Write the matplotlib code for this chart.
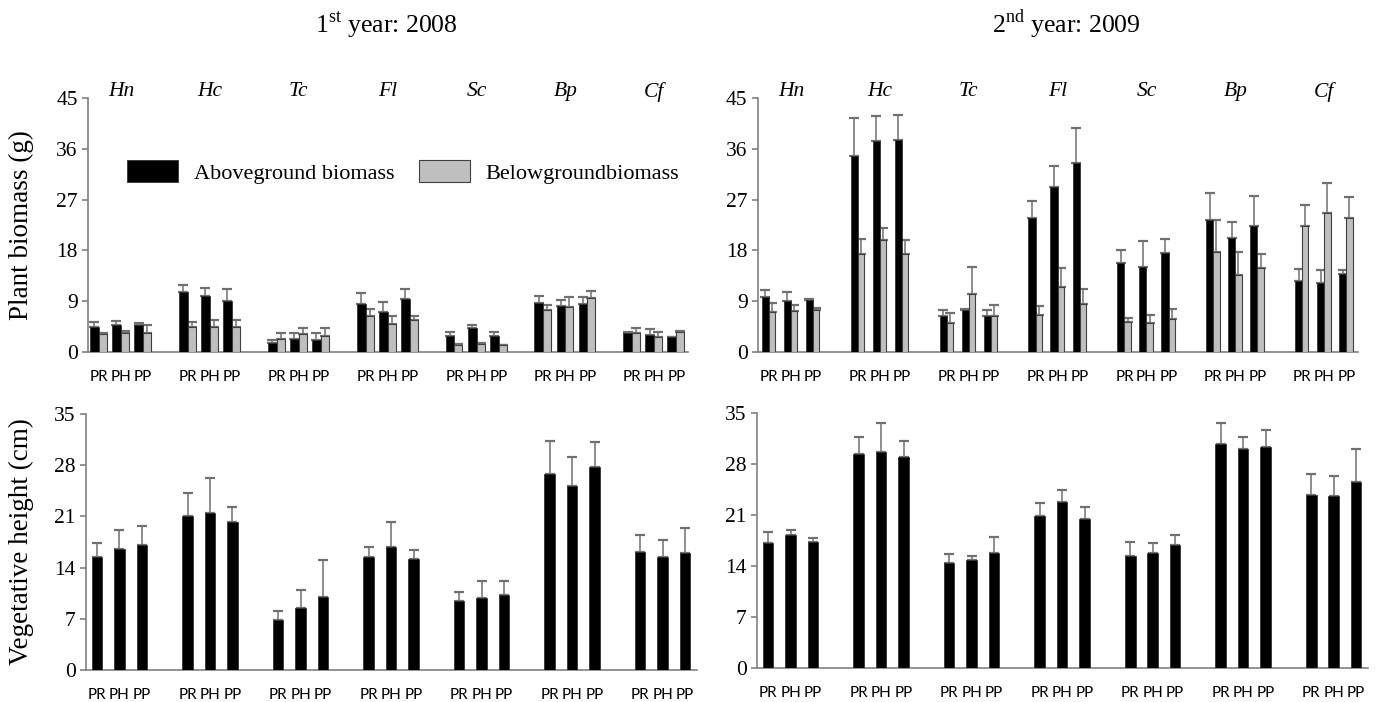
import numpy as np
import matplotlib
matplotlib.use('Agg')
import matplotlib.pyplot as plt

plt.rcParams['font.family'] = 'Liberation Serif'
plt.rcParams['mathtext.fontset'] = 'custom'
plt.rcParams['mathtext.rm'] = 'Liberation Serif'

species = ['Hn', 'Hc', 'Tc', 'Fl', 'Sc', 'Bp', 'Cf']
treat = ['PR', 'PH', 'PP']

# biomass 2008 (g), 3 treatments per species
above08 = [4.4, 4.8, 4.8, 10.6, 10.0, 9.0, 1.6, 2.3, 2.2, 8.5, 7.1, 9.3,
           2.8, 4.2, 2.9, 8.7, 8.1, 8.5, 3.4, 3.0, 2.6]
above08_se = [0.9, 0.7, 0.3, 1.2, 1.3, 2.2, 0.6, 1.1, 1.2, 2.0, 1.8, 1.8,
              0.7, 0.6, 0.6, 1.3, 1.1, 1.2, 0.1, 1.0, 0.1]
below08 = [3.2, 3.3, 3.4, 4.4, 4.4, 4.4, 2.3, 3.1, 2.9, 6.3, 5.0, 5.6,
           1.3, 1.5, 1.2, 7.5, 7.9, 9.5, 3.4, 2.6, 3.5]
below08_se = [0.2, 0.4, 1.3, 0.9, 1.2, 1.3, 1.1, 1.1, 1.3, 1.3, 1.4, 0.8,
              0.1, 0.1, 0.1, 0.9, 1.9, 1.3, 0.8, 1.0, 0.3]

# biomass 2009 (g)
above09 = [9.7, 9.1, 9.2, 34.8, 37.3, 37.5, 6.3, 7.4, 6.3, 23.7, 29.2, 33.4,
           15.7, 15.0, 17.5, 23.3, 20.2, 22.4, 12.6, 12.2, 13.8]
above09_se = [1.2, 1.5, 0.1, 6.6, 4.5, 4.4, 1.2, 0.2, 1.2, 3.1, 3.7, 6.2,
              2.3, 4.6, 2.5, 4.9, 2.8, 5.3, 2.1, 2.3, 0.7]
below09 = [7.1, 7.3, 7.4, 17.3, 19.8, 17.3, 5.1, 10.2, 6.3, 6.5, 11.5, 8.5,
           5.3, 5.1, 5.9, 17.7, 13.6, 14.8, 22.4, 24.7, 23.7]
below09_se = [1.6, 1.0, 0.4, 2.7, 2.2, 2.6, 1.8, 4.9, 2.0, 1.7, 3.4, 2.7,
              0.8, 1.5, 1.8, 5.6, 4.1, 2.5, 3.6, 5.2, 3.8]

# vegetative height (cm)
height08 = [15.5, 16.6, 17.1, 21.1, 21.5, 20.2, 6.8, 8.5, 10.0, 15.4, 16.8, 15.2,
            9.4, 9.9, 10.3, 26.8, 25.1, 27.7, 16.1, 15.5, 16.0]
height08_se = [1.8, 2.5, 2.6, 3.1, 4.7, 2.1, 1.3, 2.5, 5.1, 1.4, 3.4, 1.2,
               1.3, 2.2, 1.9, 4.5, 4.0, 3.4, 2.3, 2.3, 3.4]
height09 = [17.1, 18.3, 17.3, 29.4, 29.7, 28.9, 14.4, 14.8, 15.8, 20.9, 22.8, 20.4,
            15.4, 15.8, 16.9, 30.7, 30.0, 30.4, 23.8, 23.6, 25.5]
height09_se = [1.6, 0.6, 0.5, 2.3, 3.9, 2.2, 1.2, 0.6, 2.2, 1.7, 1.6, 1.7,
               1.9, 1.4, 1.4, 2.9, 1.7, 2.3, 2.9, 2.7, 4.5]

fig = plt.figure(figsize=(13.8, 7.02), dpi=100)

ax1 = fig.add_axes([0.0638, 0.4986, 0.4348, 0.3618])
ax2 = fig.add_axes([0.5493, 0.4986, 0.4348, 0.3618])
ax3 = fig.add_axes([0.0623, 0.0456, 0.4428, 0.3647])
ax4 = fig.add_axes([0.5486, 0.0484, 0.4428, 0.3632])

g = np.arange(len(species))
offs = np.array([-0.248, 0.0, 0.248])
xpos = (g[:, None] + offs[None, :]).ravel()


def setup(ax, ymax, step):
    ax.set_xlim(-0.37, 6.38)
    ax.set_ylim(0, ymax)
    ax.set_yticks(np.arange(0, ymax + 1, step))
    for s in ['top', 'right']:
        ax.spines[s].set_visible(False)
    for s in ['left', 'bottom']:
        ax.spines[s].set_color('#808080')
        ax.spines[s].set_linewidth(1.2)
    ax.tick_params(axis='y', direction='out', length=4.5, width=1.2,
                   color='#808080', labelsize=15.5, pad=3)
    ax.tick_params(axis='x', length=0, pad=13)
    ax.set_xticks(xpos)
    ax.set_xticklabels(treat * len(species), fontfamily='Lato', fontsize=11)


def ebar(ax, x, y, se):
    eb = ax.errorbar(x, y, yerr=[np.zeros(len(se)), se], fmt='none',
                     ecolor='#707070', elinewidth=1.1, capsize=3.5,
                     capthick=1.6, zorder=2)
    for c in eb[1]:
        c.set_color('#111111')


def biomass(ax, above, above_se, below, below_se, wb, wg):
    b1 = ax.bar(xpos - wb / 2, above, wb, color='black', edgecolor='#333333',
                linewidth=0.6, zorder=3, label='Aboveground biomass')
    b2 = ax.bar(xpos + wg / 2, below, wg, color='#bfbfbf', edgecolor='#404040',
                linewidth=0.8, zorder=3, label='Belowgroundbiomass')
    ebar(ax, xpos - wb / 2, above, above_se)
    ebar(ax, xpos + wg / 2, below, below_se)
    setup(ax, 45, 9)
    for i, sp in enumerate(species):
        ax.text(i, 1.025, sp, transform=ax.get_xaxis_transform(),
                ha='center', va='center', style='italic', fontsize=15.5)
    return b1, b2


def height(ax, h, h_se):
    ax.bar(xpos, h, 0.117, color='black', edgecolor='#333333',
           linewidth=0.6, zorder=3)
    ebar(ax, xpos, h, h_se)
    setup(ax, 35, 7)


b1, b2 = biomass(ax1, above08, above08_se, below08, below08_se, 0.1, 0.09)
biomass(ax2, above09, above09_se, below09, below09_se, 0.08, 0.07)
height(ax3, height08, height08_se)
height(ax4, height09, height09_se)

ax1.legend(handles=[b1, b2], loc='center left', bbox_to_anchor=(0.065, 0.709),
           ncol=2, frameon=False, fontsize=16, handlelength=2.3,
           handleheight=1.1, handletextpad=0.7, columnspacing=1.1,
           borderpad=0, borderaxespad=0)

ax1.set_ylabel('Plant biomass (g)', fontsize=19.5)
ax3.set_ylabel('Vegetative height (cm)', fontsize=19.5)
ax1.yaxis.set_label_coords(-0.09, 0.5)
ax3.yaxis.set_label_coords(-0.085, 0.5)

fig.text(386 / 1380, 1 - 24 / 702, r'1$^{\mathrm{st}}$ year: 2008',
         ha='center', va='center', fontsize=18.5)
fig.text(1066 / 1380, 1 - 24 / 702, r'2$^{\mathrm{nd}}$ year: 2009',
         ha='center', va='center', fontsize=18.5)

fig.savefig('out.png', dpi=100)
